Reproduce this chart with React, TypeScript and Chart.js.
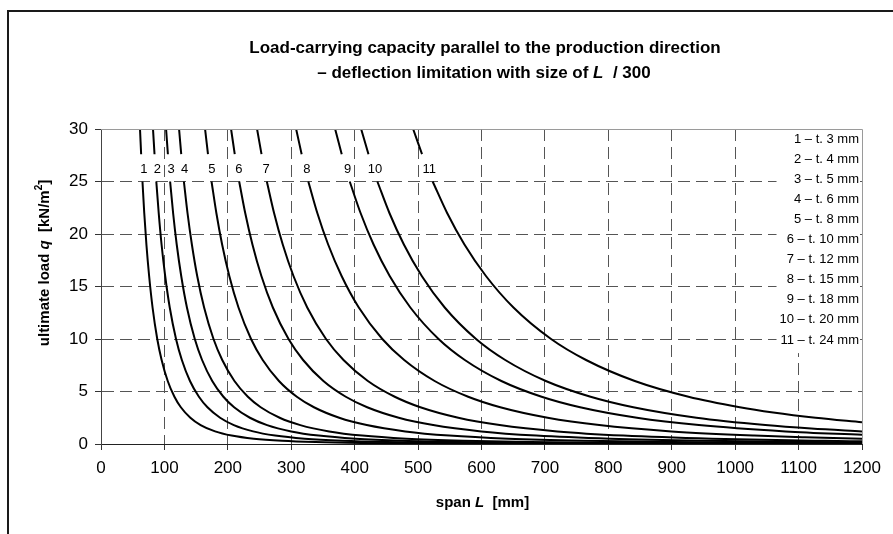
import React, { useEffect, useRef } from "react";
import { Chart, registerables } from "chart.js";

Chart.register(...registerables);

const FONT = '"Liberation Sans", Arial, sans-serif';

// plate thickness [mm] for curves 1..11
const thicknesses = [3, 4, 5, 6, 8, 10, 12, 15, 18, 20, 24];
const curveNumbers = ["1", "2", "3", "4", "5", "6", "7", "8", "9", "10", "11"];
const legendLines = thicknesses.map((t, i) => `${i + 1} – t. ${t} mm`);

// span L [mm] / ultimate load q [kN/m2]; null = break where the curve number sits
const span1 = [61.5, 63.3, null, 65.4, 68.2, 71.6, 75.9, 81.3, 88.7, 95.6, 105.2, 115.8, 125.9, 140.9, 157.1, 179.9, 206.0, 240.9, 285.6, 338.4, 411.9, 518.7, 704.1, 887.1, 1200];
const load1 = [30, 27.6, null, 25, 22, 19, 16, 13, 10, 8, 6, 4.5, 3.5, 2.5, 1.8, 1.2, 0.8, 0.5, 0.3, 0.18, 0.1, 0.05, 0.02, 0.01, 0.004];
const span2 = [82.0, 84.4, null, 87.2, 91.0, 95.5, 101.2, 108.4, 118.3, 127.5, 140.3, 154.4, 167.9, 187.8, 209.5, 239.9, 274.6, 321.2, 380.8, 451.2, 549.2, 691.6, 938.8, 1200];
const load2 = [30, 27.6, null, 25, 22, 19, 16, 13, 10, 8, 6, 4.5, 3.5, 2.5, 1.8, 1.2, 0.8, 0.5, 0.3, 0.18, 0.1, 0.05, 0.02, 0.0096];
const span3 = [102.6, 105.5, null, 109.0, 113.7, 119.4, 126.5, 135.5, 147.9, 159.4, 175.4, 193.0, 209.9, 234.8, 261.9, 299.9, 343.3, 401.5, 476.0, 564.0, 686.5, 864.5, 1200];
const load3 = [30, 27.6, null, 25, 22, 19, 16, 13, 10, 8, 6, 4.5, 3.5, 2.5, 1.8, 1.2, 0.8, 0.5, 0.3, 0.18, 0.1, 0.05, 0.019];
const span4 = [123.1, 126.5, null, 130.7, 136.4, 143.3, 151.7, 162.6, 177.4, 191.2, 210.4, 231.6, 251.8, 281.7, 314.3, 359.8, 411.9, 481.7, 571.1, 676.8, 823.8, 1037.4, 1200];
const load4 = [30, 27.6, null, 25, 22, 19, 16, 13, 10, 8, 6, 4.5, 3.5, 2.5, 1.8, 1.2, 0.8, 0.5, 0.3, 0.18, 0.1, 0.05, 0.032];
const span5 = [164.1, 168.7, null, 174.3, 181.9, 191.0, 202.3, 216.8, 236.6, 255.0, 280.6, 308.8, 335.8, 375.6, 419.0, 479.8, 549.2, 642.3, 761.5, 902.4, 1098.4, 1200];
const load5 = [30, 27.6, null, 25, 22, 19, 16, 13, 10, 8, 6, 4.5, 3.5, 2.5, 1.8, 1.2, 0.8, 0.5, 0.3, 0.18, 0.1, 0.077];
const span6 = [205.1, 210.9, null, 217.9, 227.4, 238.8, 252.9, 271.0, 295.7, 318.7, 350.7, 386.0, 419.7, 469.5, 523.8, 599.7, 686.5, 802.9, 951.9, 1128.0, 1200];
const load6 = [30, 27.6, null, 25, 22, 19, 16, 13, 10, 8, 6, 4.5, 3.5, 2.5, 1.8, 1.2, 0.8, 0.5, 0.3, 0.18, 0.15];
const span7 = [246.1, 253.1, null, 261.5, 272.9, 286.6, 303.5, 325.2, 354.8, 382.4, 420.8, 463.2, 503.6, 563.4, 628.6, 719.6, 823.8, 963.5, 1142.3, 1200];
const load7 = [30, 27.6, null, 25, 22, 19, 16, 13, 10, 8, 6, 4.5, 3.5, 2.5, 1.8, 1.2, 0.8, 0.5, 0.3, 0.26];
const span8 = [307.7, 316.4, null, 326.9, 341.1, 358.2, 379.4, 406.5, 443.6, 478.1, 526.1, 579.0, 629.6, 704.3, 785.7, 899.6, 1029.8, 1110, 1200];
const load8 = [30, 27.6, null, 25, 22, 19, 16, 13, 10, 8, 6, 4.5, 3.5, 2.5, 1.8, 1.2, 0.8, 0.64, 0.505];
const span9 = [369.2, 379.6, null, 392.2, 409.3, 429.8, 455.2, 487.8, 532.3, 573.7, 631.3, 694.8, 755.5, 845.1, 942.8, 1079.5, 1200];
const load9 = [30, 27.6, null, 25, 22, 19, 16, 13, 10, 8, 6, 4.5, 3.5, 2.5, 1.8, 1.2, 0.873];
const span10 = [410.2, 421.8, null, 435.8, 454.8, 477.6, 505.8, 542.0, 591.4, 637.4, 701.4, 772.0, 839.4, 939.0, 1047.6, 1120, 1200];
const load10 = [30, 27.6, null, 25, 22, 19, 16, 13, 10, 8, 6, 4.5, 3.5, 2.5, 1.8, 1.47, 1.198];
const span11 = [492.2, 506.2, null, 523.0, 545.8, 573.1, 607.0, 650.4, 709.7, 764.9, 841.7, 926.4, 1007.3, 1060, 1126.8, 1200];
const load11 = [30, 27.6, null, 25, 22, 19, 16, 13, 10, 8, 6, 4.5, 3.5, 3.0, 2.5, 2.07];

const spans = [span1, span2, span3, span4, span5, span6, span7, span8, span9, span10, span11];
const loads = [load1, load2, load3, load4, load5, load6, load7, load8, load9, load10, load11];

const xMin = 0, xMax = 1200, xStep = 100;
const yMin = 0, yMax = 30, yStep = 5;

type Part = { text: string; font: string; dy?: number };

function drawRich(ctx: CanvasRenderingContext2D, parts: Part[], cx: number, cy: number) {
  let total = 0;
  for (const p of parts) { ctx.font = p.font; total += ctx.measureText(p.text).width; }
  let x = cx - total / 2;
  ctx.textAlign = "left";
  ctx.textBaseline = "middle";
  for (const p of parts) {
    ctx.font = p.font;
    ctx.fillText(p.text, x, cy + (p.dy || 0));
    x += ctx.measureText(p.text).width;
  }
}

const decorPlugin = {
  id: "decor",
  beforeDraw(chart: any) {
    const ctx = chart.ctx as CanvasRenderingContext2D;
    ctx.save();
    ctx.fillStyle = "#ffffff";
    ctx.fillRect(0, 0, chart.width, chart.height);
    // outer frame (left & top visible)
    ctx.fillStyle = "#1a1a1a";
    ctx.fillRect(7, 10, chart.width - 7, 2);
    ctx.fillRect(7, 10, 2, chart.height - 10);
    ctx.restore();
  },
  afterDatasetsDraw(chart: any) {
    const ctx = chart.ctx as CanvasRenderingContext2D;
    const a = chart.chartArea;
    const xs = chart.scales.x, ys = chart.scales.y;
    ctx.save();
    // top & right plot border
    ctx.strokeStyle = "#9a9a9a";
    ctx.lineWidth = 1;
    ctx.beginPath();
    ctx.moveTo(a.left, Math.round(a.top) + 0.5);
    ctx.lineTo(Math.round(a.right) + 0.5, Math.round(a.top) + 0.5);
    ctx.lineTo(Math.round(a.right) + 0.5, a.bottom);
    ctx.stroke();

    // curve numbers in the breaks
    ctx.fillStyle = "#000";
    ctx.font = `13px ${FONT}`;
    ctx.textAlign = "center";
    ctx.textBaseline = "middle";
    chart.data.datasets.forEach((ds: any, i: number) => {
      const pts = ds.data;
      const gi = pts.findIndex((p: any) => p.y === null);
      if (gi < 1) return;
      const px = (xs.getPixelForValue(pts[gi - 1].x) + xs.getPixelForValue(pts[gi + 1].x)) / 2;
      const py = (ys.getPixelForValue(pts[gi - 1].y) + ys.getPixelForValue(pts[gi + 1].y)) / 2;
      ctx.fillText(curveNumbers[i], px + 2, py + 2);
    });

    // legend box
    ctx.font = `13px ${FONT}`;
    const rightX = a.right - 3;
    const top0 = a.top + 10;
    const lh = 20.1;
    let maxW = 0;
    legendLines.forEach((s) => { maxW = Math.max(maxW, ctx.measureText(s).width); });
    ctx.fillStyle = "#fff";
    ctx.fillRect(rightX - maxW - 3, a.top + 1, maxW + 4, lh * legendLines.length + 2);
    ctx.fillStyle = "#000";
    ctx.textAlign = "right";
    legendLines.forEach((s, i) => ctx.fillText(s, rightX, top0 + i * lh));

    // titles
    ctx.fillStyle = "#000";
    const b16 = `bold 17px ${FONT}`;
    const bi16 = `italic bold 17px ${FONT}`;
    drawRich(ctx, [{ text: "Load-carrying capacity parallel to the production direction", font: b16 }], 485, 48);
    drawRich(ctx, [
      { text: "– deflection limitation with size of ", font: b16 },
      { text: "L", font: bi16 },
      { text: "  / 300", font: b16 },
    ], 484, 73);

    const b14 = `bold 15px ${FONT}`;
    const bi14 = `italic bold 15px ${FONT}`;
    drawRich(ctx, [
      { text: "span ", font: b14 },
      { text: "L", font: bi14 },
      { text: "  [mm]", font: b14 },
    ], (a.left + a.right) / 2 + 1, 503);

    ctx.save();
    ctx.translate(45, 263);
    ctx.rotate(-Math.PI / 2);
    drawRich(ctx, [
      { text: "ultimate load ", font: b14 },
      { text: "q", font: bi14 },
      { text: "  [kN/m", font: b14 },
      { text: "2", font: `bold 10px ${FONT}`, dy: -6 },
      { text: "]", font: b14 },
    ], 0, 0);
    ctx.restore();

    ctx.restore();
  },
};

export default function App() {
  const ref = useRef<HTMLCanvasElement | null>(null);
  useEffect(() => {
    if (!ref.current) return;
    const datasets = spans.map((sp, i) => ({
      label: legendLines[i],
      data: sp.map((L, j) => ({ x: L === null ? sp[j - 1] : L, y: loads[i][j] })),
      borderColor: "#000",
      borderWidth: 2,
      pointRadius: 0,
      fill: false,
      spanGaps: false,
      cubicInterpolationMode: "monotone" as const,
    }));
    const gridColor = (edgeA: number, edgeB: number) => (c: any) =>
      c.tick && (c.tick.value === edgeA || c.tick.value === edgeB) ? "rgba(0,0,0,0)" : "#555";
    const chart = new Chart(ref.current, {
      type: "line",
      data: { datasets },
      options: {
        responsive: false,
        animation: false,
        devicePixelRatio: 1,
        layout: { padding: { left: 0, top: 129, right: 31, bottom: 30 } },
        plugins: { legend: { display: false }, tooltip: { enabled: false }, title: { display: false } },
        scales: {
          x: {
            type: "linear",
            min: xMin,
            max: xMax,
            ticks: { stepSize: xStep, color: "#000", font: { family: FONT, size: 17 }, padding: 8, maxRotation: 0, autoSkip: false, callback: (v: any) => String(v) },
            grid: { color: gridColor(xMin, xMax), tickColor: "#333", tickLength: 6, lineWidth: 1 },
            border: { color: "#222", width: 1, dash: [12, 6] },
            afterFit: (s: any) => { s.height = 60; },
          },
          y: {
            type: "linear",
            min: yMin,
            max: yMax,
            ticks: { stepSize: yStep, color: "#000", font: { family: FONT, size: 17 }, padding: 7, callback: (v: any) => String(v) },
            grid: { color: gridColor(yMin, yMax), tickColor: "#333", tickLength: 6, lineWidth: 1 },
            border: { color: "#444", width: 1, dash: [12, 6] },
            afterFit: (s: any) => { s.width = 101; },
          },
        },
      },
      plugins: [decorPlugin],
    });
    return () => chart.destroy();
  }, []);
  return (
    <div style={{ position: "absolute", left: 0, top: 0, width: 893, height: 534, overflow: "hidden", background: "#fff" }}>
      <canvas ref={ref} width={893} height={534} style={{ display: "block" }} />
    </div>
  );
}
